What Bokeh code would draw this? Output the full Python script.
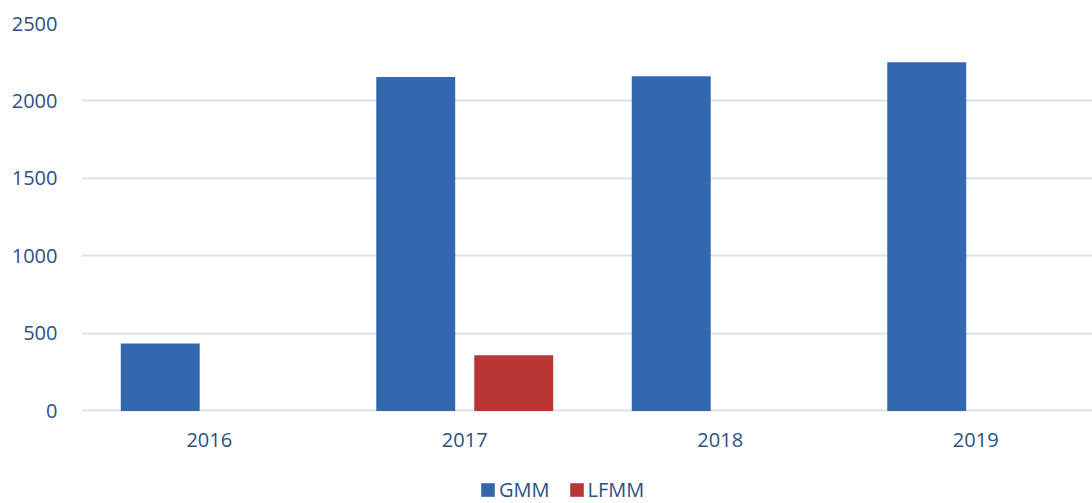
from bokeh.plotting import figure
from bokeh.models import ColumnDataSource, Range1d, FixedTicker, Legend
from bokeh.transform import dodge
from bokeh.embed import file_html
from bokeh.resources import INLINE

years = ["2016", "2017", "2018", "2019"]
gmm = [435, 2155, 2160, 2250]
lfmm = [0, 360, 0, 0]
y_ticks = [0, 500, 1000, 1500, 2000, 2500]

FONT = "Open Sans"
TXT = "#2C5183"

xs = list(range(len(years)))
src = ColumnDataSource(dict(x=xs, gmm=gmm, lfmm=lfmm))

# frame runs to the bottom edge; the part below 0 holds the x labels and legend
p = figure(width=1092, height=503, output_backend="svg", toolbar_location=None,
           x_range=Range1d(-0.5, 3.457), y_range=Range1d(-597, 2500),
           min_border_left=81, min_border_right=0, min_border_top=23,
           min_border_bottom=0, outline_line_color=None)

r1 = p.vbar(x=dodge("x", -0.1918), top="gmm", width=0.309, source=src,
            fill_color="#3468AE", line_color=None)
r2 = p.vbar(x=dodge("x", 0.1918), top="lfmm", width=0.309, source=src,
            fill_color="#B83633", line_color=None)

p.xgrid.visible = False
p.ygrid.ticker = FixedTicker(ticks=y_ticks)
p.ygrid.grid_line_color = "#D9E3F0"
p.ygrid.grid_line_width = 2

p.yaxis.ticker = FixedTicker(ticks=y_ticks)
p.xaxis.ticker = FixedTicker(ticks=xs)
p.xaxis.major_label_overrides = {i: y for i, y in enumerate(years)}
p.xaxis.fixed_location = 0

for ax in (p.xaxis[0], p.yaxis[0]):
    ax.axis_line_color = None
    ax.major_tick_line_color = None
    ax.minor_tick_line_color = None
    ax.major_tick_in = 0
    ax.major_tick_out = 0
    ax.minor_tick_in = 0
    ax.minor_tick_out = 0
    ax.major_label_text_font = FONT
    ax.major_label_text_font_size = "20px"
    ax.major_label_text_color = TXT
p.yaxis.major_label_standoff = 24
p.xaxis.major_label_standoff = 22

legend = Legend(items=[("GMM", [r1]), ("LFMM", [r2])], orientation="horizontal",
                location=(398, 0), padding=0, margin=0, spacing=18,
                glyph_width=17, glyph_height=17, label_standoff=3,
                label_text_font=FONT, label_text_font_size="20px",
                label_text_color=TXT, border_line_color=None,
                background_fill_alpha=0)
p.add_layout(legend)

open("out.html", "w").write(file_html(p, INLINE))
